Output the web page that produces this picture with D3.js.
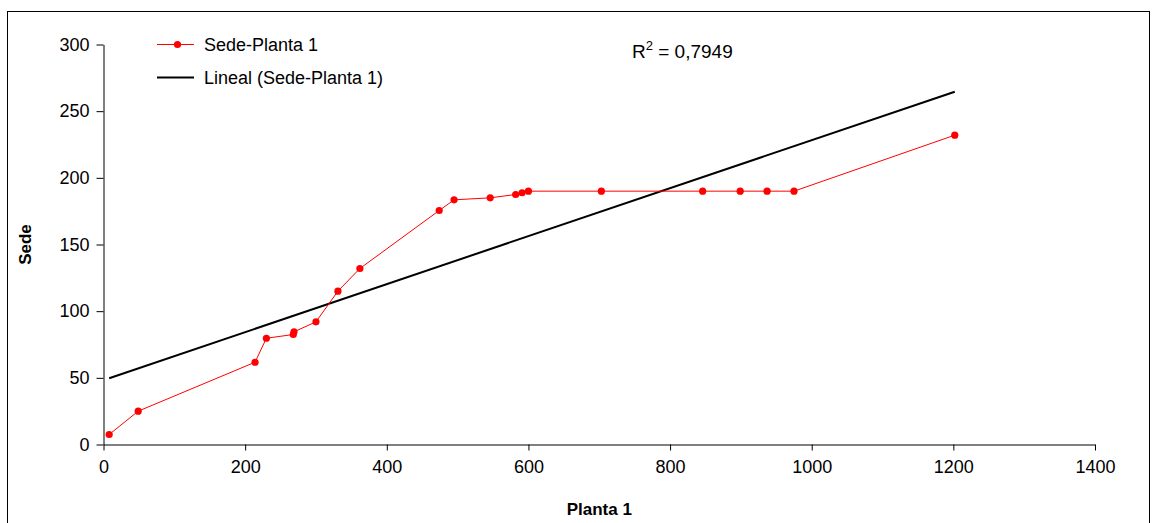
<!DOCTYPE html>
<html>
<head>
<meta charset="utf-8">
<script src="https://cdn.jsdelivr.net/npm/d3@7"></script>
<style>
	body { margin: 0; background: #fff; }
	text { font-family: "Liberation Sans", Arial, sans-serif; }
</style>
</head>
<body>
<div id="chart01"></div>
<script>
// Sede vs Planta 1 values
var planta = [8, 49, 214, 230, 268, 269, 300, 331, 362, 474, 495, 546, 582, 591, 600, 703, 846, 899, 937, 975, 1202];
var sede = [7.5, 25, 61.7, 79.7, 82.5, 84.5, 92, 115, 132, 175.5, 183.5, 185, 187.5, 188.8, 190, 190, 190, 190, 190, 190, 232];
var xTicks = [0, 200, 400, 600, 800, 1000, 1200, 1400];
var yTicks = [0, 50, 100, 150, 200, 250, 300];
var seriesName = "Sede-Planta 1";
var trendName = "Lineal (Sede-Planta 1)";
var r2Text = "0,7949";

var width = 1152;
var height = 523;
var margin = { top: 44.5, right: 57, bottom: 78.5, left: 103.5 };

var svg = d3.select("#chart01").append("svg").attr("width", width).attr("height", height);

// outer frame
svg
	.append("rect")
	.attr("x", 7.5)
	.attr("y", 11.5)
	.attr("width", 1142)
	.attr("height", 540)
	.attr("fill", "none")
	.attr("stroke", "#000")
	.attr("stroke-width", 1);

var x = d3.scaleLinear().domain([0, 1400]).range([margin.left, width - margin.right]);
var y = d3.scaleLinear().domain([0, 300]).range([height - margin.bottom, margin.top]);

// X-axis
var xAxis = svg
	.append("g")
	.attr("transform", `translate(0, ${height - margin.bottom})`)
	.call(
		d3.axisBottom(x).tickValues(xTicks).tickFormat(d3.format("d")).tickSize(6).tickSizeOuter(0).tickPadding(10)
	);

// Y-axis
var yAxis = svg
	.append("g")
	.attr("transform", `translate(${margin.left}, 0)`)
	.call(
		d3.axisLeft(y).tickValues(yTicks).tickFormat(d3.format("d")).tickSize(7).tickSizeOuter(0).tickPadding(7)
	);

[xAxis, yAxis].forEach((g) => {
	g.selectAll("text").style("font-size", "18px").attr("fill", "#000");
	g.selectAll("line").attr("stroke", "#000");
	g.select(".domain").attr("stroke", "#000");
});

// axis titles
svg
	.append("text")
	.attr("x", (margin.left + width - margin.right) / 2)
	.attr("y", 515)
	.attr("text-anchor", "middle")
	.attr("font-size", "17px")
	.attr("font-weight", "bold")
	.text("Planta 1");

svg
	.append("text")
	.attr("transform", `translate(31, ${(margin.top + height - margin.bottom) / 2}) rotate(-90)`)
	.attr("text-anchor", "middle")
	.attr("font-size", "17px")
	.attr("font-weight", "bold")
	.text("Sede");

// linear trend (least squares)
var mx = d3.mean(planta);
var my = d3.mean(sede);
var sxy = d3.sum(planta, (d, i) => (d - mx) * (sede[i] - my));
var sxx = d3.sum(planta, (d) => (d - mx) * (d - mx));
var slope = sxy / sxx;
var intercept = my - slope * mx;
var xExt = d3.extent(planta);

svg
	.append("line")
	.attr("x1", x(xExt[0]))
	.attr("y1", y(intercept + slope * xExt[0]))
	.attr("x2", x(xExt[1]))
	.attr("y2", y(intercept + slope * xExt[1]))
	.attr("stroke", "#000")
	.attr("stroke-width", 2);

// data line and markers
var points = planta.map((d, i) => ({ x: d, y: sede[i] }));
svg
	.append("path")
	.datum(points)
	.attr("fill", "none")
	.attr("stroke", "#ff0000")
	.attr("stroke-width", 1)
	.attr("d", d3.line().x((d) => x(d.x)).y((d) => y(d.y)));

svg
	.selectAll(".dot")
	.data(points)
	.join("circle")
	.attr("class", "dot")
	.attr("cx", (d) => x(d.x))
	.attr("cy", (d) => y(d.y))
	.attr("r", 3.6)
	.attr("fill", "#ff0000");

// legend
var legend = svg.append("g");
legend.append("line").attr("x1", 157).attr("x2", 194).attr("y1", 44.5).attr("y2", 44.5).attr("stroke", "#ff0000");
legend.append("circle").attr("cx", 177.5).attr("cy", 44.5).attr("r", 3.6).attr("fill", "#ff0000");
legend.append("text").attr("x", 204).attr("y", 50.5).attr("font-size", "18px").text(seriesName);
legend.append("line").attr("x1", 157).attr("x2", 194).attr("y1", 77.5).attr("y2", 77.5).attr("stroke", "#000").attr("stroke-width", 2);
legend.append("text").attr("x", 204).attr("y", 83.5).attr("font-size", "18px").text(trendName);

// R squared label
var r2 = svg.append("text").attr("x", 632).attr("y", 58).attr("font-size", "19px");
r2.append("tspan").text("R");
r2.append("tspan").attr("font-size", "13px").attr("dy", -8).text("2");
r2.append("tspan").attr("dy", 8).text(" = " + r2Text);
</script>
</body>
</html>
